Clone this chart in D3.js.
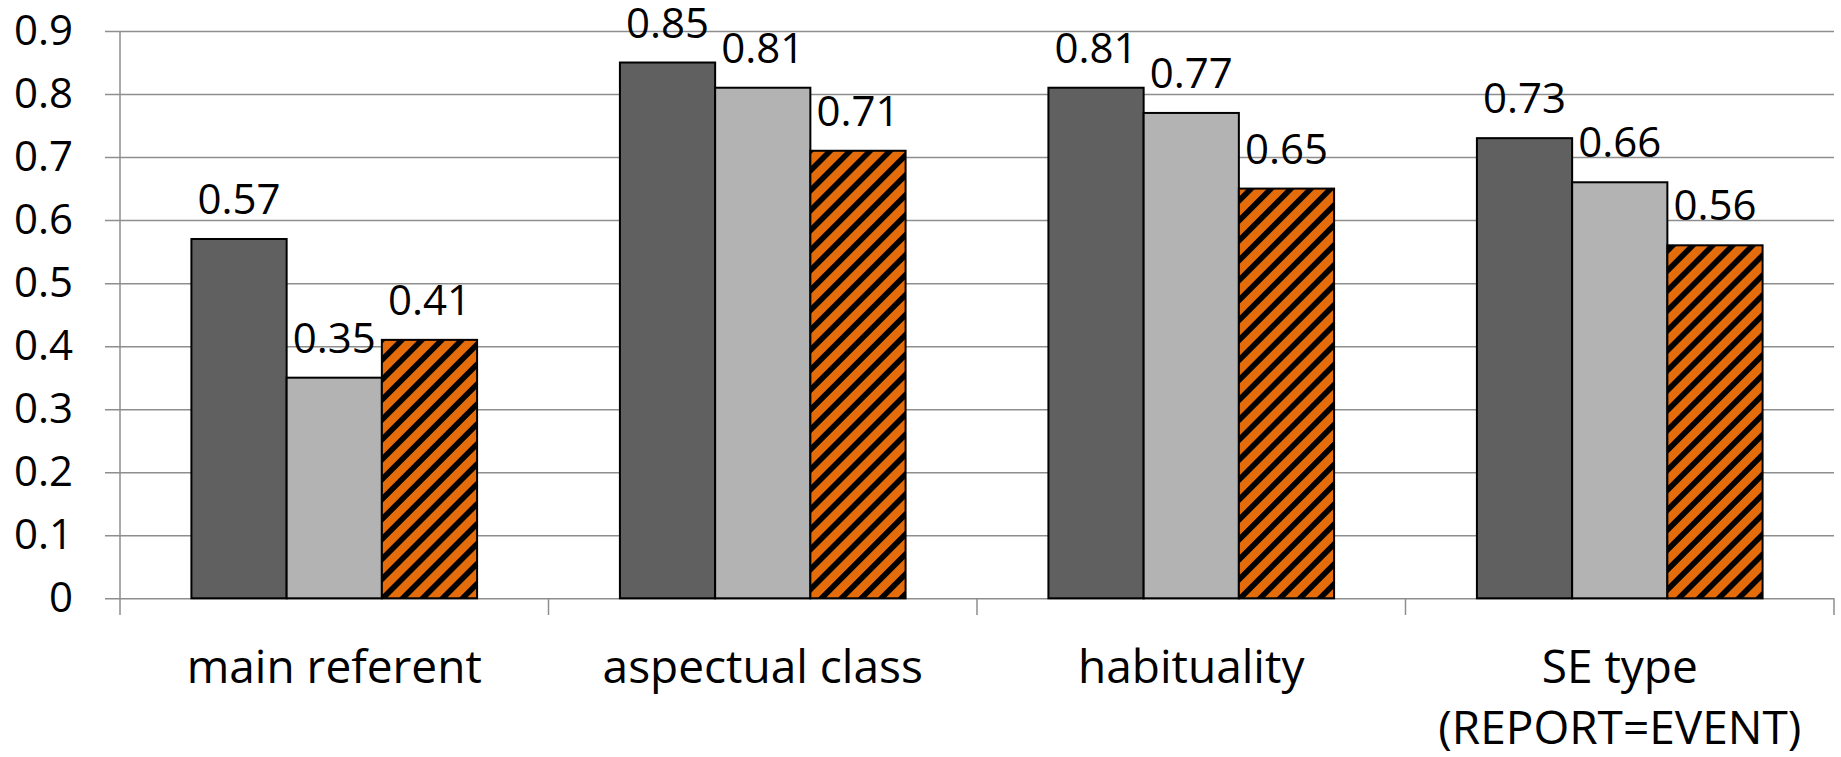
<!DOCTYPE html>
<html>
<head>
<meta charset="utf-8">
<script src="https://cdn.jsdelivr.net/npm/d3@7"></script>
<style>
  html, body { margin: 0; padding: 0; background: #ffffff; }
  svg { display: block; }
  text { font-family: "Open Sans", "Noto Sans", sans-serif; fill: #000; }
</style>
</head>
<body>
<svg id="chart" width="1841" height="757"></svg>
<script>
// ---- Data ----
const categories = ["main referent", "aspectual class", "habituality", "SE type\n(REPORT=EVENT)"];
const seriesNames = ["s1", "s2", "s3"];
const series1 = [0.57, 0.85, 0.81, 0.73];
const series2 = [0.35, 0.81, 0.77, 0.66];
const series3 = [0.41, 0.71, 0.65, 0.56];
const yTicks = [0, 0.1, 0.2, 0.3, 0.4, 0.5, 0.6, 0.7, 0.8, 0.9];
const yTickLabels = ["0", "0.1", "0.2", "0.3", "0.4", "0.5", "0.6", "0.7", "0.8", "0.9"];

const seriesValues = [series1, series2, series3];

// ---- Layout ----
const svg = d3.select("#chart");
const plotLeft = 120, plotRight = 1834, plotTop = 31, plotBottom = 598.3;

const x = d3.scaleBand().domain(categories).range([plotLeft, plotRight]).paddingInner(0).paddingOuter(0);
const x1 = d3.scaleBand().domain(seriesNames).range([0, x.bandwidth()]).paddingInner(0).paddingOuter(0.75);
const y = d3.scaleLinear().domain([0, 0.9]).range([plotBottom, plotTop]);

// pattern (wide upward diagonal, black on orange)
const P = 14.1;
const defs = svg.append("defs");
const pat = defs.append("pattern")
  .attr("id", "hatch")
  .attr("patternUnits", "userSpaceOnUse")
  .attr("width", P).attr("height", P)
  .attr("patternTransform", "rotate(45)");
pat.append("rect").attr("width", P).attr("height", P).attr("fill", "#E46C0A");
pat.append("rect").attr("x", 0).attr("width", 5.6).attr("height", P).attr("fill", "#000");

// gridlines + y tick labels
const yAxis = d3.axisLeft(y)
  .tickValues(yTicks)
  .tickFormat((d, i) => yTickLabels[i])
  .tickSize(plotRight - 105)
  .tickPadding(32);
const gy = svg.append("g").attr("transform", `translate(${plotRight},0)`).call(yAxis);
gy.select(".domain").remove();
gy.selectAll(".tick line").attr("stroke", "#8e8e8e").attr("stroke-width", 1.5);
gy.selectAll(".tick text")
  .attr("font-size", 42)
  .attr("font-family", "'Open Sans', sans-serif")
  .attr("fill", "#000");

// y axis line
svg.append("line")
  .attr("x1", plotLeft).attr("x2", plotLeft)
  .attr("y1", plotTop).attr("y2", plotBottom)
  .attr("stroke", "#8e8e8e").attr("stroke-width", 1.5);

// category ticks (boundaries)
const boundaries = categories.map(c => x(c)).concat([x(categories[categories.length - 1]) + x.bandwidth()]);
svg.append("g").selectAll("line").data(boundaries).join("line")
  .attr("x1", d => d).attr("x2", d => d)
  .attr("y1", plotBottom).attr("y2", 615)
  .attr("stroke", "#8e8e8e").attr("stroke-width", 1.5);

// bars
const fills = ["#606060", "#B3B3B3", "url(#hatch)"];
const barData = [];
categories.forEach((c, ci) => {
  seriesNames.forEach((s, si) => {
    barData.push({ cat: c, s: s, si: si, v: seriesValues[si][ci] });
  });
});

svg.append("g").selectAll("rect").data(barData).join("rect")
  .attr("x", d => x(d.cat) + x1(d.s))
  .attr("y", d => y(d.v))
  .attr("width", x1.bandwidth())
  .attr("height", d => y(0) - y(d.v))
  .attr("fill", d => fills[d.si])
  .attr("stroke", "#000")
  .attr("stroke-width", 2);

// value labels
svg.append("g").selectAll("text").data(barData).join("text")
  .attr("x", d => x(d.cat) + x1(d.s) + x1.bandwidth() / 2)
  .attr("y", d => y(d.v) - 25)
  .attr("text-anchor", "middle")
  .attr("font-size", 42)
  .text(d => d.v.toFixed(2));

// category labels
const catG = svg.append("g");
categories.forEach(c => {
  const lines = c.split("\n");
  const t = catG.append("text")
    .attr("x", x(c) + x.bandwidth() / 2)
    .attr("y", 683)
    .attr("text-anchor", "middle")
    .attr("font-size", 46);
  lines.forEach((ln, i) => {
    t.append("tspan")
      .attr("x", x(c) + x.bandwidth() / 2)
      .attr("dy", i === 0 ? 0 : 61)
      .text(ln);
  });
});
</script>
</body>
</html>
